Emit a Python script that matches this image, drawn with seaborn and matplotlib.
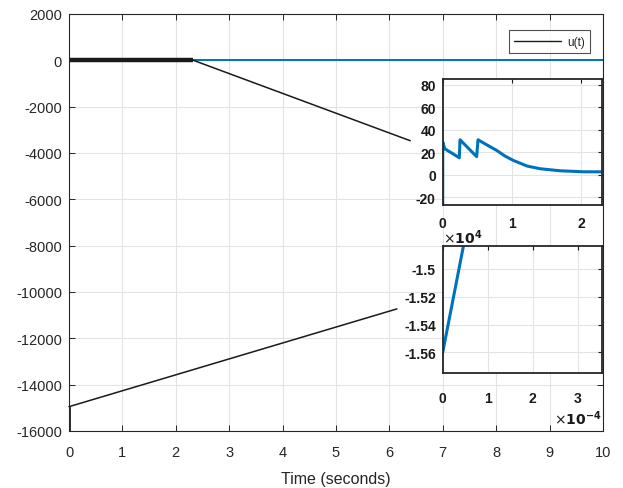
import numpy as np
import pandas as pd
import matplotlib
matplotlib.use("Agg")
import matplotlib.pyplot as plt
import seaborn as sns

# ---- data ----
main_t = [0, 0, 10]
main_u = [-14950, 0, 0]
zoom_rect1_t = [0, 2.33]
zoom_rect1_u = [0, 0]
zoom_rect2_t = [0, 0]
zoom_rect2_u = [-14950, -16000]
conn1_t = [2.33, 6.39]
conn1_u = [0, -3470]
conn2_t = [0, 6.14]
conn2_u = [-14950, -10730]

ins1_x = [0, 0, 0.03, 0.24, 0.25, 0.49, 0.51, 0.65, 0.78, 0.90, 1.02, 1.22, 1.41, 1.70, 2.04, 2.31]
ins1_y = [-27, 29, 23, 15, 31, 16, 31, 26, 21.5, 16.5, 12.6, 7.6, 5.2, 3.4, 2.5, 2.5]
ins2_x = [0, 0.50]
ins2_y = [-1.56, -1.477]

main_xticks = list(range(0, 11))
main_yticks = list(range(-16000, 2001, 2000))
ins1_xticks = [0, 1, 2]
ins1_yticks = [-20, 0, 20, 40, 60, 80]
ins2_xticks = [0, 1, 2, 3]
ins2_yticks = [-1.56, -1.54, -1.52, -1.5]
ins2_ylabels = ["-1.56", "-1.54", "-1.52", "-1.5"]

sns.set_theme(style="white")
plt.rcParams['font.family'] = ['Liberation Sans', 'DejaVu Sans']
plt.rcParams['axes.unicode_minus'] = False

BLUE = "#0072BD"
GRID = "#e3e3e3"

fig = plt.figure(figsize=(6.23, 4.89), dpi=100)
ax = fig.add_axes([69/623, 1-432/489, 534/623, 417/489])

def style_axes(a, lw=0.8):
    for s in a.spines.values():
        s.set_color("#262626")
        s.set_linewidth(lw)
        s.set_visible(True)
    a.grid(True, color=GRID, linewidth=0.8)
    a.set_axisbelow(True)

style_axes(ax)
df_main = pd.DataFrame({"t": main_t, "u": main_u})
sns.lineplot(data=df_main, x="t", y="u", sort=False, estimator=None, color=BLUE,
             linewidth=1.4, ax=ax, label="u(t)", legend=False)
ax.plot(zoom_rect1_t, zoom_rect1_u, color="#1a1a1a", linewidth=3.2, solid_capstyle="butt")
ax.plot(zoom_rect2_t, zoom_rect2_u, color="#1a1a1a", linewidth=2.0)
ax.plot(conn1_t, conn1_u, color="#1a1a1a", linewidth=1.1, clip_on=False)
ax.plot(conn2_t, conn2_u, color="#1a1a1a", linewidth=1.1, clip_on=False)
ax.set_xlim(0, 10)
ax.set_ylim(-16000, 2000)
ax.set_xticks(main_xticks)
ax.set_yticks(main_yticks)
ax.tick_params(direction="in", length=4, width=0.7, colors="#262626", labelsize=10.5,
               top=True, right=True, bottom=True, left=True)
ax.tick_params(axis="x", pad=10)
ax.tick_params(axis="y", pad=5)
ax.set_xlabel("Time (seconds)", fontsize=11.5, color="#262626", labelpad=9)
ax.set_ylabel("")

from matplotlib.lines import Line2D
leg = ax.legend(handles=[Line2D([0], [0], color="#1a1a1a", linewidth=1.0)], labels=["u(t)"],
                loc="upper right", bbox_to_anchor=(0.987, 0.975), fontsize=8.5,
                frameon=True, fancybox=False, handlelength=4.0, handletextpad=0.5,
                borderpad=0.45)
leg.get_frame().set_edgecolor("#262626")
leg.get_frame().set_linewidth(0.8)

# inset 1
ax1 = fig.add_axes([442.7/623, 1-206/489, 159.3/623, 126/489])
style_axes(ax1, lw=1.3)
df1 = pd.DataFrame({"x": ins1_x, "y": ins1_y})
sns.lineplot(data=df1, x="x", y="y", sort=False, estimator=None, color=BLUE,
             linewidth=2.2, ax=ax1)
ax1.set_xlim(0, 2.3)
ax1.set_ylim(-27, 85)
ax1.set_xticks(ins1_xticks)
ax1.set_yticks(ins1_yticks)
ax1.set_xlabel("")
ax1.set_ylabel("")
ax1.tick_params(direction="in", length=3, width=0.8, colors="#1a1a1a", labelsize=10,
                top=True, right=True)
ax1.tick_params(axis="x", pad=8)
ax1.tick_params(axis="y", pad=5)
for l in ax1.get_xticklabels() + ax1.get_yticklabels():
    l.set_fontweight("bold")

# inset 2
ax2 = fig.add_axes([442.7/623, 1-374.3/489, 159.3/623, 127/489])
style_axes(ax2, lw=1.3)
df2 = pd.DataFrame({"x": ins2_x, "y": ins2_y})
sns.lineplot(data=df2, x="x", y="y", sort=False, estimator=None, color=BLUE,
             linewidth=2.2, ax=ax2)
ax2.set_xlim(0, 3.54)
ax2.set_ylim(-1.575, -1.4837)
ax2.set_xticks(ins2_xticks)
ax2.set_yticks(ins2_yticks)
ax2.set_yticklabels(ins2_ylabels)
ax2.set_xlabel("")
ax2.set_ylabel("")
ax2.tick_params(direction="in", length=3, width=0.8, colors="#1a1a1a", labelsize=10,
                top=True, right=True)
ax2.tick_params(axis="x", pad=13)
ax2.tick_params(axis="y", pad=5)
for l in ax2.get_xticklabels() + ax2.get_yticklabels():
    l.set_fontweight("bold")
ax2.text(0.0, 1.0, r"$\times\mathbf{10^{4}}$", transform=ax2.transAxes, fontsize=10,
         fontweight="bold", ha="left", va="bottom", color="#1a1a1a")
ax2.text(1.0, -0.28, r"$\times\mathbf{10^{-4}}$", transform=ax2.transAxes, fontsize=10,
         fontweight="bold", ha="right", va="top", color="#1a1a1a")

fig.savefig("out.png", dpi=100)
